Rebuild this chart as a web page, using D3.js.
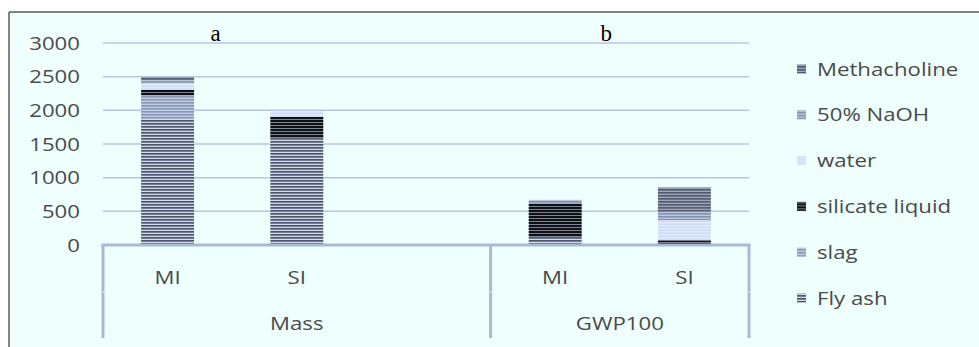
<!DOCTYPE html>
<html><head><meta charset="utf-8">
<script src="https://cdn.jsdelivr.net/npm/d3@7"></script>
<style>
html,body{margin:0;padding:0;background:#fff;}
svg{display:block;}
</style></head>
<body><svg id="c" width="979" height="347"></svg>
<script>
// ---- data ----
const categoryLabels = ["MI", "SI", "", "MI", "SI"];
const categoryGroups = ["Mass", "Mass", "Mass", "GWP100", "GWP100"];
const groupNames = ["Mass", "GWP100"];
const panelLetters = ["a", "b"];
const seriesNames = ["Fly ash", "slag", "silicate liquid", "water", "50% NaOH", "Methacholine"];
const flyAsh       = [1880, 1585, 0, 120, 0];
const slag         = [340, 0, 0, 0, 0];
const silicate     = [85, 320, 0, 500, 70];
const water        = [90, 85, 0, 0, 300];
const naoh         = [50, 0, 0, 50, 125];
const methacholine = [50, 0, 0, 0, 360];
const yTicks = [0, 500, 1000, 1500, 2000, 2500, 3000];

const seriesValues = [flyAsh, slag, silicate, water, naoh, methacholine];
const patterns = [
  {base: "#d2dae6", stripe: "#4c566d", sh: 1.7},
  {base: "#c3cde2", stripe: "#8795b4", sh: 1.6},
  {base: "#7c8596", stripe: "#0e1014", sh: 2},
  {base: "#cddcf6", stripe: "#e2ebfb", sh: 1.5},
  {base: "#bcc6da", stripe: "#8592ae", sh: 1.6},
  {base: "#9ea7b9", stripe: "#535c71", sh: 1.7}
];

const svg = d3.select("#c");
const W = 979, H = 347;
const SX = 1.17;
const FONT = "'Open Sans', 'DejaVu Sans', sans-serif";
const txtCol = "#4a4a4a";

// frame / background
svg.append("rect").attr("x", 0).attr("y", 0).attr("width", W).attr("height", H).attr("fill", "#ffffff");
svg.append("rect").attr("x", 9).attr("y", 12).attr("width", W - 9).attr("height", H - 12).attr("fill", "#effffe");
svg.append("line").attr("x1", 9).attr("x2", W).attr("y1", 12).attr("y2", 12).attr("stroke", "#5a5a5a").attr("stroke-width", 1.5);
svg.append("line").attr("x1", 9).attr("x2", 9).attr("y1", 12).attr("y2", H).attr("stroke", "#5a5a5a").attr("stroke-width", 1.5);

// patterns
const defs = svg.append("defs");
patterns.forEach((p, i) => {
  const pt = defs.append("pattern").attr("id", "p" + i).attr("patternUnits", "userSpaceOnUse")
    .attr("width", 4).attr("height", 3);
  pt.append("rect").attr("width", 4).attr("height", 3).attr("fill", p.base);
  pt.append("rect").attr("y", 0).attr("width", 4).attr("height", p.sh).attr("fill", p.stripe);
});

const left = 103, right = 749, y0 = 245, yTop = 43;
const keys = categoryLabels.map((d, i) => i);
const x = d3.scaleBand().domain(keys).range([left, right]).paddingInner(0.59).paddingOuter(0.295);
const y = d3.scaleLinear().domain([0, 3000]).range([y0, yTop]);

// gridlines
svg.append("g").selectAll("line").data(yTicks.filter(t => t > 0)).join("line")
  .attr("x1", left).attr("x2", right).attr("y1", d => y(d)).attr("y2", d => y(d))
  .attr("stroke", "#b7c6e2").attr("stroke-width", 1.5);

// y tick labels
svg.append("g").selectAll("text").data(yTicks).join("text")
  .attr("transform", d => `translate(80,${y(d) + 6.5}) scale(${SX},1)`)
  .attr("text-anchor", "end").attr("font-family", FONT).attr("font-size", 19).attr("fill", txtCol)
  .text(d => d);

// stacked bars
const table = keys.map(k => {
  const o = {k};
  seriesNames.forEach((s, i) => o[s] = seriesValues[i][k]);
  return o;
});
const stacked = d3.stack().keys(seriesNames)(table);
svg.append("g").selectAll("g").data(stacked).join("g")
  .attr("fill", (d, i) => `url(#p${i})`)
  .selectAll("rect").data(d => d.filter(e => e[1] - e[0] > 0)).join("rect")
  .attr("x", d => x(d.data.k)).attr("width", x.bandwidth())
  .attr("y", d => y(d[1])).attr("height", d => y(d[0]) - y(d[1]));

// category axis
const axCol = "#a8b8d8";
svg.append("line").attr("x1", left - 1.5).attr("x2", right + 1.5).attr("y1", y0).attr("y2", y0)
  .attr("stroke", axCol).attr("stroke-width", 3);
const step = x.step();
const groupBounds = [];
groupNames.forEach(g => {
  const idx = keys.filter(k => categoryGroups[k] === g);
  const a = left + step * idx[0], b = left + step * (idx[idx.length - 1] + 1);
  groupBounds.push([a, b, g]);
});
const seps = [left, ...groupBounds.map(g => g[1])];
svg.append("g").selectAll("line").data(seps).join("line")
  .attr("x1", d => d).attr("x2", d => d).attr("y1", y0).attr("y2", 338)
  .attr("stroke", axCol).attr("stroke-width", 3);
svg.append("g").selectAll("line").data(seps).join("line")
  .attr("x1", d => d).attr("x2", d => d).attr("y1", 291.5).attr("y2", 292.5)
  .attr("stroke", "#dfe8f4").attr("stroke-width", 3);

svg.append("g").selectAll("text").data(keys.filter(k => categoryLabels[k])).join("text")
  .attr("transform", k => `translate(${x(k) + x.bandwidth() / 2},${284}) scale(${SX},1)`)
  .attr("text-anchor", "middle").attr("font-family", FONT).attr("font-size", 19).attr("fill", txtCol)
  .text(k => categoryLabels[k]);
svg.append("g").selectAll("text").data(groupBounds).join("text")
  .attr("transform", d => `translate(${(d[0] + d[1]) / 2},${330}) scale(${SX},1)`)
  .attr("text-anchor", "middle").attr("font-family", FONT).attr("font-size", 19).attr("fill", txtCol)
  .text(d => d[2]);

// panel letters (placed to the right of each group's first bar)
const letterCats = [0, 3];
svg.append("g").selectAll("text").data(letterCats).join("text")
  .attr("x", (k, i) => x(k) + x.bandwidth() / 2 + (i === 0 ? 48 : 51))
  .attr("y", 41)
  .attr("text-anchor", "middle").attr("font-family", "'Liberation Serif', 'DejaVu Serif', serif")
  .attr("font-size", 23).attr("fill", "#000")
  .text((k, i) => panelLetters[i]);

// legend (reverse order)
const legendOrder = seriesNames.map((s, i) => i).reverse();
const lg = svg.append("g").selectAll("g").data(legendOrder).join("g")
  .attr("transform", (d, j) => `translate(797,${69 + j * 45.8})`);
lg.append("rect").attr("x", 0).attr("y", -4.5).attr("width", 9).attr("height", 9)
  .attr("fill", i => `url(#p${i})`);
lg.append("text").attr("transform", `translate(20,6.5) scale(${SX},1)`)
  .attr("font-family", FONT).attr("font-size", 19).attr("fill", txtCol)
  .text(i => seriesNames[i]);
</script></body></html>
